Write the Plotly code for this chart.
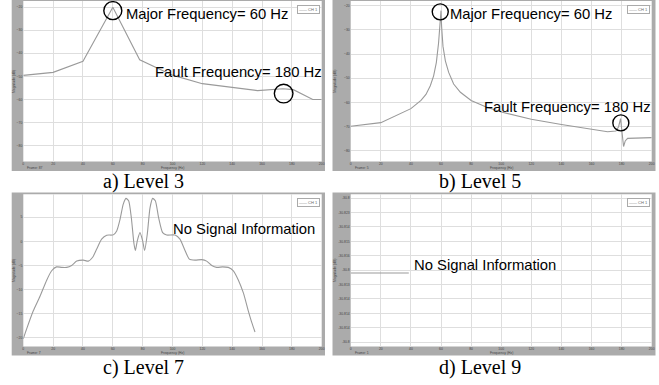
import plotly.graph_objects as go

W, H = 659, 385

# ---------------- data ----------------
freq_a = [0, 20, 40, 60, 78, 100, 120, 140, 157, 174, 181, 194, 200]
mag_a = [-49.6, -48.3, -43.5, -20.0, -42.8, -49.5, -53.2, -54.8, -56.2, -55.4, -55.8, -60.1, -60.1]

freq_b = [0, 20, 40, 46.7, 50, 52.9, 55.1, 56.9, 58.4, 59.3, 60.0, 60.4, 61.3, 62.9, 65.1,
          68.4, 72.9, 80, 90, 100, 120, 140, 160, 170.7, 176.2, 178, 179.3, 180.0, 180.7,
          181.3, 182.4, 184, 200]
mag_b = [-69.9, -68.4, -62.6, -59.2, -56.7, -53.1, -49.0, -43.5, -35.3, -27.1, -22.0, -28.5,
         -36.7, -42.8, -47.6, -52.4, -55.8, -59.2, -61.9, -64.0, -67.0, -69.2, -71.2, -72.2,
         -71.9, -70.1, -66.7, -70.5, -74.9, -78.3, -76.0, -74.9, -74.6]

freq_c = [0, 2.2, 6.7, 11.2, 15.6, 19.0, 22.3, 25.7, 29.1, 32.4, 35.8, 40.2, 43.6, 46.5, 49.2,
          52.5, 55.9, 60.3, 62.6, 64.8, 67.0, 68.8, 70.6, 72.4, 74.2, 75.1, 76.4, 78.2, 80.0,
          81.3, 83.1, 84.9, 86.7, 88.5, 90.7, 93.4, 96.1, 101.7, 105.0, 108.4, 111.3, 115.1,
          119.6, 122.9, 126.3, 129.6, 133.6, 137.4, 140.8, 144.1, 147.5, 150.8, 153.1, 155.3]
mag_c = [-20.2, -18.2, -14.4, -11.4, -8.1, -6.1, -5.3, -5.4, -5.4, -5.0, -4.1, -3.9, -4.1, -3.3,
         -1.6, 0.46, 1.27, 1.34, 2.15, 4.5, 7.7, 8.9, 8.4, 4.9, -0.56, -1.9, 0.1, 1.8, 0.1,
         -1.9, 1.5, 6.9, 8.9, 8.4, 4.9, 1.8, 1.3, 1.3, 0.46, -1.9, -3.7, -3.9, -3.8, -4.1,
         -5.0, -5.4, -5.3, -5.4, -6.1, -8.0, -10.7, -14.4, -16.8, -18.8]

freq_d = [0, 38.6]
mag_d = [4.8, 4.8]

x_ticks = [0, 20, 40, 60, 80, 100, 120, 140, 160, 180, 200]
y_ticks_ab = [-20, -30, -40, -50, -60, -70, -80]
y_ticks_c = [5, 0, -5, -10, -15, -20]
y_ticks_d = [10, 9, 8, 7, 6, 5, 4, 3, 2, 1, 0]
y_ticktext_d = ["-30.8", "-30.823", "-30.814", "-30.815", "-30.816", "-30.8",
                "-30.813", "-30.814", "-30.814", "-30.814", "-30.8"]

captions = ["a) Level 3", "b) Level 5", "c) Level 7", "d) Level 9"]
frames_txt = ["Frame: 87", "Frame: 5", "Frame: 7", "Frame: 1"]

# ---------------- layout helpers ----------------
def px(x):
    return x / W

def py(y):
    return 1 - y / H

# plot areas (pixels): x0, x1, ytop, ybottom
areas = [
    (23.3, 321.7, 1.0, 161.5),
    (350.7, 651.7, 1.0, 161.5),
    (23.3, 321.7, 194.3, 346.5),
    (350.7, 651.7, 194.3, 346.5),
]
frames = [
    (11.7, 325.0, 0.0, 171.0),
    (332.5, 655.5, 0.0, 171.0),
    (11.7, 325.0, 192.5, 355.5),
    (332.5, 655.5, 192.5, 355.5),
]
yranges = [[-87.0, -17.3], [-84.5, -18.0], [-21.8, 9.75], [-0.3, 10.27]]

LINE = "#9a9a9a"
GRID = "#dedede"
TICKFONT = dict(family="Liberation Sans", size=3.4, color="#444")

fig = go.Figure()
datasets = [(freq_a, mag_a), (freq_b, mag_b), (freq_c, mag_c), (freq_d, mag_d)]
for i, (fx, fy) in enumerate(datasets):
    suf = "" if i == 0 else str(i + 1)
    fig.add_trace(go.Scatter(
        x=fx, y=fy, mode="lines", xaxis="x" + suf, yaxis="y" + suf,
        line=dict(color=LINE, width=1.1, shape="spline" if i == 2 else "linear",
                  smoothing=0.6),
        showlegend=False, hoverinfo="skip"))

layout = dict(
    width=W, height=H, margin=dict(l=0, r=0, t=0, b=0, pad=0),
    paper_bgcolor="white", plot_bgcolor="rgba(0,0,0,0)",
    shapes=[], annotations=[],
)

for i in range(4):
    suf = "" if i == 0 else str(i + 1)
    x0, x1, yt, yb = areas[i]
    layout["xaxis" + suf] = dict(
        domain=[px(x0), px(x1)], anchor="y" + suf, range=[0, 200], automargin=False,
        tickvals=x_ticks, showgrid=True, gridcolor=GRID, gridwidth=1,
        zeroline=False, showline=False, ticks="", ticklen=0, tickfont=TICKFONT,
        ticklabelstandoff=-1,
    )
    yax = dict(
        domain=[py(yb), py(yt)], anchor="x" + suf, range=yranges[i], automargin=False,
        showgrid=True, gridcolor=GRID, gridwidth=1,
        zeroline=False, showline=False, ticks="", ticklen=0, tickfont=TICKFONT,
    )
    if i in (0, 1):
        yax["tickvals"] = y_ticks_ab
    elif i == 2:
        yax["tickvals"] = y_ticks_c
    else:
        yax["tickvals"] = y_ticks_d
        yax["ticktext"] = y_ticktext_d
    layout["yaxis" + suf] = yax

    fx0, fx1, fyt, fyb = frames[i]
    layout["shapes"].append(dict(type="rect", xref="paper", yref="paper",
                                 x0=px(fx0), x1=px(fx1), y0=py(fyb), y1=py(fyt),
                                 fillcolor="#ababab", line=dict(width=0), layer="below"))
    layout["shapes"].append(dict(type="rect", xref="paper", yref="paper",
                                 x0=px(x0), x1=px(x1), y0=py(yb), y1=py(yt),
                                 fillcolor="white", line=dict(width=0), layer="below"))
    # legend box
    layout["annotations"].append(dict(
        xref="paper", yref="paper", x=px(x1 - 1.5), y=py(yt + 4), xanchor="right", yanchor="top",
        text="—— CH 1", showarrow=False, font=dict(family="Liberation Sans", size=4, color="#666"),
        bgcolor="white", bordercolor="#aaaaaa", borderwidth=1, borderpad=1))
    # axis titles
    layout["annotations"].append(dict(
        xref="paper", yref="paper", x=px((x0 + x1) / 2), y=py(fyb), xanchor="center",
        yanchor="bottom", text="Frequency (Hz)", showarrow=False, borderpad=0,
        font=dict(family="Liberation Sans", size=3.4, color="#444")))
    layout["annotations"].append(dict(
        xref="paper", yref="paper", x=px(x0 + 3), y=py(fyb), xanchor="left",
        yanchor="bottom", text=frames_txt[i], showarrow=False, borderpad=0,
        font=dict(family="Liberation Sans", size=3.4, color="#444")))
    layout["annotations"].append(dict(
        xref="paper", yref="paper", x=px(fx0 + 3), y=py((yt + yb) / 2), xanchor="center",
        yanchor="middle", text="Magnitude (dB)", textangle=-90, showarrow=False,
        font=dict(family="Liberation Sans", size=3.4, color="#444")))

# captions
cap_pos = [(143, 181.5), (480, 181.5), (143, 367), (480, 367)]
for (cx, cy), txt in zip(cap_pos, captions):
    layout["annotations"].append(dict(
        xref="paper", yref="paper", x=px(cx), y=py(cy), xanchor="center", yanchor="middle",
        text=txt, showarrow=False, font=dict(family="Liberation Serif", size=20, color="black")))

# big labels
big = [
    (124.0, 14.0, "Major Frequency= 60 Hz"),
    (152.7, 71.7, "Fault Frequency= 180 Hz"),
    (448.3, 14.0, "Major Frequency= 60 Hz"),
    (481.7, 106.7, "Fault Frequency= 180 Hz"),
    (170.7, 229.0, "No Signal Information"),
    (411.7, 265.0, "No Signal Information"),
]
for bx, by, txt in big:
    layout["annotations"].append(dict(
        xref="paper", yref="paper", x=px(bx), y=py(by), xanchor="left", yanchor="middle",
        text=txt, showarrow=False, font=dict(family="Liberation Sans", size=14.8, color="black")))

# circles (pixel-sized, anchored to data points)
circles = [("x", "y", 60, -21.5, 9), ("x", "y", 174.5, -57.5, 9.3),
           ("x2", "y2", 59.5, -22.5, 8), ("x2", "y2", 179.5, -68.5, 8)]
for xr, yr, ax, ay, r in circles:
    layout["shapes"].append(dict(
        type="circle", xref=xr, yref=yr, xsizemode="pixel", ysizemode="pixel",
        xanchor=ax, yanchor=ay, x0=-r, x1=r, y0=-r, y1=r,
        line=dict(color="black", width=1.4), layer="above"))

fig.update_layout(**layout)
fig.write_html("out.html", config={"displayModeBar": False},
               post_script="document.body.style.margin='0';document.body.style.padding='0';")
